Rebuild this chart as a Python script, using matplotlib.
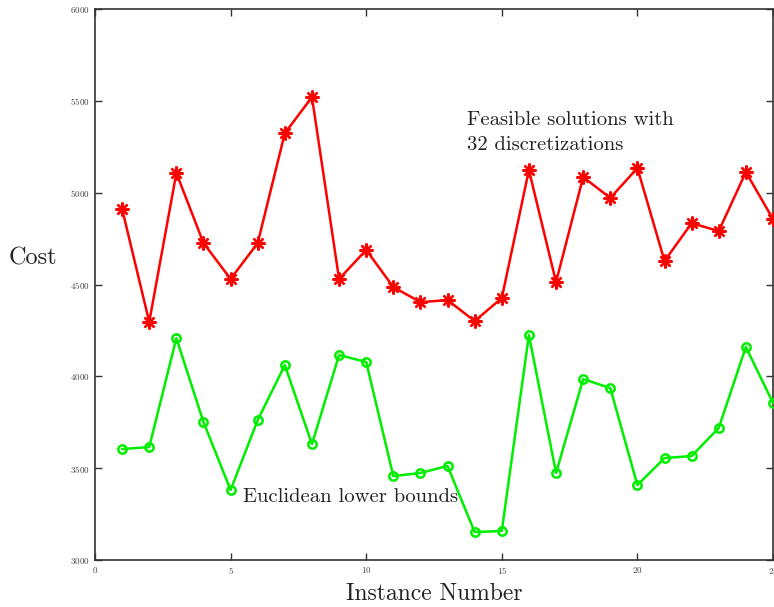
import matplotlib.pyplot as plt

plt.rcParams['font.family'] = ['cmr10', 'DejaVu Serif']
plt.rcParams['axes.formatter.use_mathtext'] = True

instances = list(range(1, 26))
feasible = [4911, 4296, 5107, 4726, 4530, 4726, 5324, 5520, 4530, 4688,
            4486, 4404, 4415, 4301, 4426, 5123, 4513, 5085, 4971, 5134,
            4628, 4834, 4791, 5112, 4856]
lower = [3604, 3615, 4208, 3751, 3381, 3762, 4061, 3631, 4116, 4078,
         3457, 3474, 3512, 3152, 3158, 4225, 3474, 3985, 3936, 3408,
         3555, 3566, 3719, 4160, 3855]

fig = plt.figure(figsize=(7.74, 6.07), dpi=100)
ax = fig.add_axes([95 / 774, 1 - 560 / 607, 678 / 774, 551 / 607])

ax.plot(instances, feasible, color='#ff0000', lw=1.8, marker=(8, 2, 0),
        ms=10, mew=1.7, clip_on=False, zorder=3)
ax.plot(instances, lower, color='#00ee00', lw=1.8, marker='o', ms=6,
        mfc='none', mew=1.8, clip_on=False, zorder=3)

ax.set_xlim(0, 25)
ax.set_ylim(3000, 6000)
ax.set_xticks([0, 5, 10, 15, 20, 25])
ax.set_yticks(range(3000, 6001, 500))
ax.tick_params(direction='in', top=True, right=True, labelsize=6.5,
               labelcolor='#444444', length=5, width=1, color='#333333')
for s in ax.spines.values():
    s.set_color('#333333')
    s.set_linewidth(1.2)

ax.set_xlabel('Instance Number', fontsize=17, color='#222222', labelpad=5)
ax.set_ylabel('Cost', fontsize=17.5, rotation=0, color='#222222', va='center')
ax.yaxis.set_label_coords(-0.092, 0.548)

ax.text(13.72, 5445, 'Feasible solutions with\n32 discretizations',
        fontsize=14.9, va='top', ha='left', color='#222222', linespacing=1.5)
ax.text(5.45, 3345, 'Euclidean lower bounds', fontsize=14.9, va='center',
        ha='left', color='#222222')

fig.savefig('out.png', dpi=100)
